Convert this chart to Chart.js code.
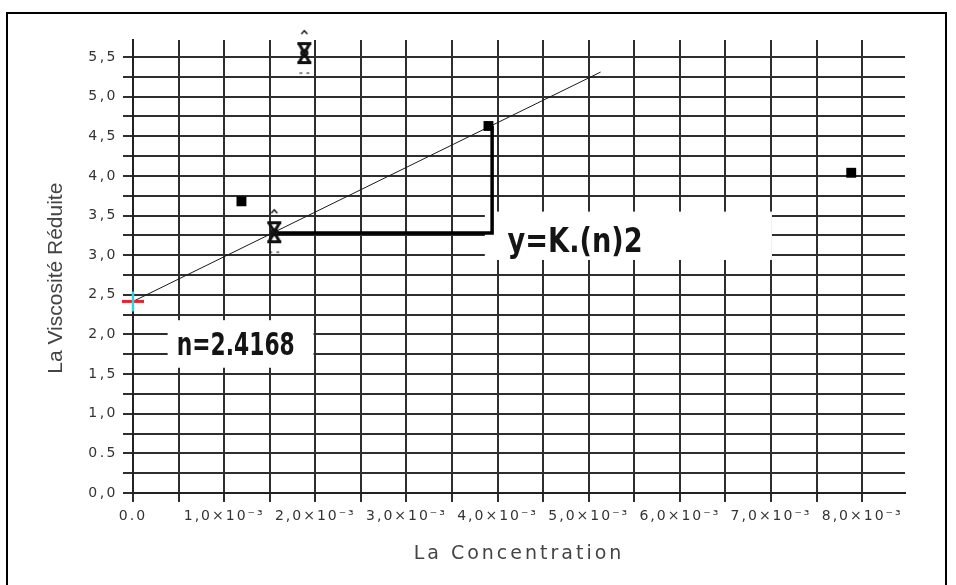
<!DOCTYPE html>
<html>
<head>
<meta charset="utf-8">
<script src="https://cdn.jsdelivr.net/npm/chart.js@4.4.1/dist/chart.umd.min.js"></script>
<style>
  html, body { margin: 0; padding: 0; background: #fff; overflow: hidden; }
  #wrap { position: relative; width: 956px; height: 585px; overflow: hidden; }
  #c { position: absolute; left: 0; top: 0; }
  #frame { position: absolute; left: 6px; top: 12px; width: 937px; height: 640px;
           border: 2px solid #000; pointer-events: none; }
</style>
</head>
<body>
<div id="wrap">
  <canvas id="c" width="956" height="585"></canvas>
  <div id="frame"></div>
</div>
<script>
// ---- data ----
const squareConc = [0.00119, 0.00390, 0.00788];
const squareVisc = [3.68, 4.63, 4.04];

const crossConc = [0.00155, 0.00188];
const crossVisc = [3.29, 5.55];

const interceptConc = [0];
const interceptVisc = [2.4168];

const fitConc = [0, 0.00513];
const fitVisc = [2.4168, 5.31];

const slopeConc = [0.00155, 0.00394, 0.00394];
const slopeVisc = [3.28, 3.28, 4.63];

const xTickLabels = ['0.0', '1,0×10⁻³', '2,0×10⁻³', '3,0×10⁻³', '4,0×10⁻³',
                     '5,0×10⁻³', '6,0×10⁻³', '7,0×10⁻³', '8,0×10⁻³'];
const yTickLabels = ['0,0', '0.5', '1,0', '1,5', '2,0', '2,5', '3,0', '3,5',
                     '4,0', '4,5', '5,0', '5,5'];

const xTitle = 'La Concentration';
const yTitle = 'La Viscosité Réduite    ';

// annotation boxes (data units) and texts
const notes = [
  { text: 'n=2.4168', box: [0.00038, 0.00198, 2.18, 1.58], at: [0.00048, 1.74], size: 32, width: 118 },
  { text: 'y=K.(n)2', box: [0.00386, 0.00701, 3.55, 2.94], at: [0.00411, 3.04], size: 33, width: 135 }
];

const zip = (xs, ys) => xs.map((x, i) => ({ x, y: ys[i] }));

// letter-spaced linear scale (reference text looks stretched)
const SPACING = { x: { ticks: 2, title: 3 }, y: { ticks: 2.5, title: 0 } };
class SpacedLinear extends Chart.LinearScale {
  drawLabels(area) {
    const c = this.ctx; c.save();
    c.letterSpacing = ((SPACING[this.id] || {}).ticks || 0) + 'px';
    super.drawLabels(area); c.restore();
  }
  drawTitle() {
    const c = this.ctx; c.save();
    c.letterSpacing = ((SPACING[this.id] || {}).title || 0) + 'px';
    super.drawTitle(); c.restore();
  }
}
SpacedLinear.id = 'spacedLinear';
SpacedLinear.defaults = Chart.LinearScale.defaults;
Chart.register(SpacedLinear);

// marker glyph for the "error-bar" style points
function makeMarker() {
  const c = document.createElement('canvas');
  c.width = 22; c.height = 50;
  const g = c.getContext('2d');
  g.strokeStyle = '#111';
  g.lineWidth = 1.4;
  g.beginPath(); g.moveTo(8, 6); g.lineTo(11, 2.5); g.lineTo(14, 6); g.stroke();
  g.lineWidth = 3;
  g.beginPath(); g.moveTo(4, 15.5); g.lineTo(18, 15.5); g.moveTo(4, 34.5); g.lineTo(18, 34.5); g.stroke();
  g.lineWidth = 3;
  g.beginPath(); g.moveTo(6, 16); g.lineTo(16, 34); g.moveTo(16, 16); g.lineTo(6, 34); g.stroke();
  g.lineWidth = 2;
  g.beginPath(); g.arc(11, 25, 3.2, 0, Math.PI * 2); g.stroke();
  g.lineWidth = 1.2;
  g.beginPath(); g.moveTo(6, 45); g.lineTo(9, 45); g.moveTo(13, 45); g.lineTo(16, 45); g.stroke();
  return c;
}

const notePlugin = {
  id: 'notes',
  beforeDatasetsDraw(chart) {
    const { ctx, scales: { x, y } } = chart;
    ctx.save();
    ctx.letterSpacing = '0px';
    notes.forEach(n => {
      const l = x.getPixelForValue(n.box[0]), r = x.getPixelForValue(n.box[1]);
      const t = y.getPixelForValue(n.box[2]), b = y.getPixelForValue(n.box[3]);
      ctx.fillStyle = '#fff';
      ctx.fillRect(l, t, r - l, b - t);
      ctx.font = 'bold ' + n.size + 'px "DejaVu Sans", sans-serif';
      const w = ctx.measureText(n.text).width;
      ctx.save();
      ctx.translate(x.getPixelForValue(n.at[0]), y.getPixelForValue(n.at[1]));
      ctx.scale(n.width / w, 1);
      ctx.fillStyle = '#141414';
      ctx.textBaseline = 'alphabetic';
      ctx.textAlign = 'left';
      ctx.fillText(n.text, 0, 0);
      ctx.restore();
    });
    ctx.restore();
  }
};

const gridColor = '#2e2e2e';

new Chart(document.getElementById('c'), {
  type: 'scatter',
  data: {
    datasets: [
      { label: 'intercept-v', data: zip(interceptConc, interceptVisc), pointStyle: 'line',
        pointRotation: 90, pointRadius: 10, borderColor: '#33d3de', borderWidth: 2.5, clip: false },
      { label: 'intercept-h', data: zip(interceptConc, interceptVisc), pointStyle: 'line',
        pointRadius: 11, borderColor: '#e8232b', borderWidth: 3, clip: false },
      { label: 'squares', data: zip(squareConc, squareVisc), pointStyle: 'rect',
        pointRadius: 7, backgroundColor: '#000', borderColor: '#000', borderWidth: 0, clip: false },
      { label: 'crosses', data: zip(crossConc, crossVisc), pointStyle: makeMarker(),
        pointRadius: 10, clip: false },
      { label: 'slope', data: zip(slopeConc, slopeVisc), showLine: true, borderColor: '#000',
        borderWidth: 3.5, pointRadius: 0, tension: 0 },
      { label: 'fit', data: zip(fitConc, fitVisc), showLine: true, borderColor: '#1a1a1a',
        borderWidth: 1, pointRadius: 0, tension: 0 }
    ]
  },
  options: {
    responsive: false,
    animation: false,
    devicePixelRatio: 1,
    layout: { padding: { left: 40, top: 40, right: 51, bottom: 16 } },
    plugins: { legend: { display: false }, tooltip: { enabled: false } },
    scales: {
      x: {
        type: 'spacedLinear',
        min: 0, max: 0.00847,
        afterFit: s => { s.height = 76; },
        grid: { color: gridColor, lineWidth: 2, tickLength: 9, tickColor: gridColor, tickWidth: 2 },
        border: { color: '#222', width: 2 },
        ticks: {
          stepSize: 0.0005, includeBounds: false, autoSkip: false, maxRotation: 0, minRotation: 0,
          padding: 6, color: '#333', font: { family: 'DejaVu Sans', size: 14 },
          callback: v => { const k = v / 0.001, i = Math.round(k); return Math.abs(k - i) < 1e-6 ? (xTickLabels[i] || '') : ''; }
        },
        title: { display: true, text: xTitle, color: '#444', font: { family: 'DejaVu Sans', size: 19 },
                 padding: { top: 4, bottom: 4 } }
      },
      y: {
        type: 'spacedLinear',
        min: 0, max: 5.715,
        afterFit: s => { s.width = 93; },
        grid: { color: gridColor, lineWidth: 2, tickLength: 10, tickColor: gridColor, tickWidth: 2 },
        border: { color: '#222', width: 2 },
        ticks: {
          stepSize: 0.25, includeBounds: false, autoSkip: false,
          padding: 5, color: '#333', font: { family: 'DejaVu Sans', size: 14 },
          callback: v => { const k = v / 0.5, i = Math.round(k); return Math.abs(k - i) < 1e-6 ? (yTickLabels[i] || '') : ''; }
        },
        title: { display: true, text: yTitle, color: '#444', font: { family: 'Liberation Sans', size: 21 },
                 padding: { top: 4, bottom: 4 } }
      }
    }
  },
  plugins: [notePlugin]
});
</script>
</body>
</html>
